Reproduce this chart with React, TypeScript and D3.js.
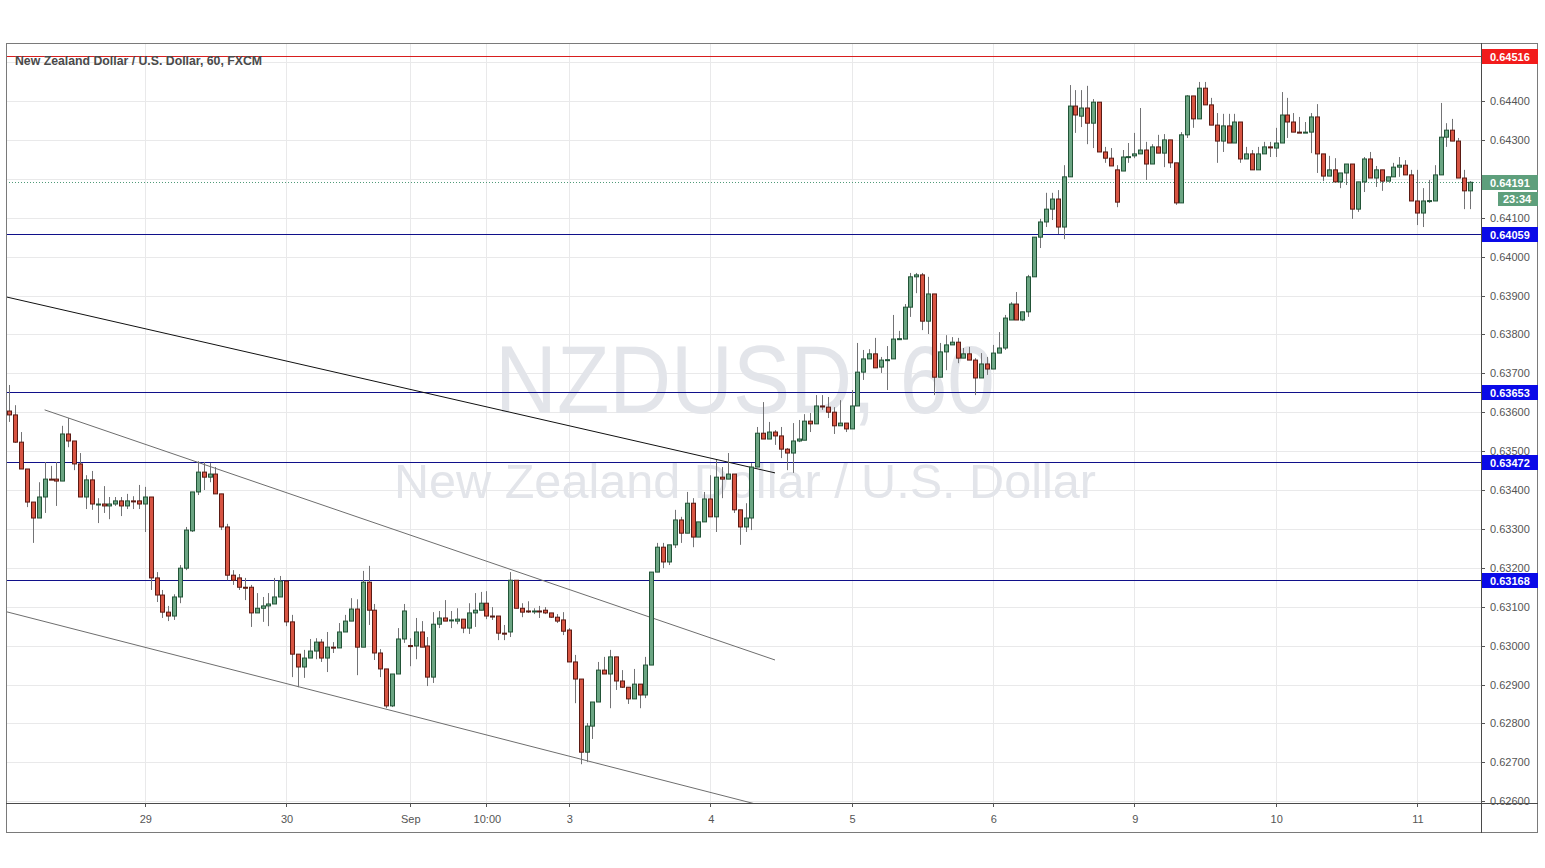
import React from "react";
import * as d3 from "d3";

// Hourly NZD/USD candles (FXCM), Aug 28 01:00 -> Sep 11 UTC
const openP = [
0.63603,0.63593,0.63523,0.63454,0.63369,0.63328,0.63382,0.63428,0.63428,0.63423,
0.63544,0.63526,0.63467,0.63382,0.63426,0.63364,0.63364,0.63359,0.63364,0.63372,
0.63359,0.63372,0.63372,0.63364,0.63382,0.63174,0.63130,0.63086,0.63076,0.63125,
0.63199,0.63295,0.63395,0.63446,0.63433,0.63441,0.63390,0.63305,0.63181,0.63174,
0.63150,0.63150,0.63084,0.63096,0.63102,0.63107,0.63125,0.63166,0.63061,0.62978,
0.62945,0.62968,0.62986,0.63009,0.62968,0.62996,0.62994,0.63035,0.63063,0.63094,
0.62996,0.63163,0.63091,0.62981,0.62940,0.62845,0.62927,0.63017,0.63000,0.62999,
0.63035,0.62999,0.62919,0.63055,0.63071,0.63066,0.63063,0.63068,0.63045,0.63084,
0.63091,0.63109,0.63076,0.63076,0.63032,0.63035,0.63168,0.63096,0.63089,0.63088,
0.63089,0.63091,0.63084,0.63073,0.63066,0.63040,0.62958,0.62914,0.62726,0.62793,
0.62855,0.62937,0.62927,0.62971,0.62909,0.62893,0.62863,0.62901,0.62873,0.62950,
0.63189,0.63253,0.63215,0.63259,0.63323,0.63289,0.63366,0.63279,0.63318,0.63377,
0.63331,0.63433,0.63428,0.63441,0.63349,0.63305,0.63328,0.63459,0.63546,0.63531,
0.63549,0.63539,0.63505,0.63495,0.63526,0.63528,0.63577,0.63570,0.63616,0.63613,
0.63600,0.63565,0.63572,0.63557,0.63616,0.63703,0.63737,0.63750,0.63716,0.63734,
0.63737,0.63788,0.63788,0.63870,0.63948,0.63953,0.63834,0.63904,0.63690,0.63755,
0.63773,0.63780,0.63739,0.63750,0.63734,0.63688,0.63724,0.63711,0.63752,0.63765,
0.63837,0.63878,0.63837,0.63858,0.63948,0.64050,0.64089,0.64122,0.64148,0.64076,
0.64205,0.64387,0.64361,0.64382,0.64343,0.64397,0.64269,0.64253,0.64223,0.64220,
0.64256,0.64259,0.64264,0.64274,0.64238,0.64282,0.64266,0.64300,0.64241,0.64138,
0.64313,0.64413,0.64354,0.64433,0.64390,0.64338,0.64297,0.64336,0.64292,0.64346,
0.64251,0.64264,0.64223,0.64264,0.64282,0.64279,0.64292,0.64364,0.64346,0.64320,
0.64320,0.64320,0.64359,0.64264,0.64207,0.64223,0.64192,0.64215,0.64238,0.64122,
0.64192,0.64251,0.64202,0.64223,0.64194,0.64205,0.64230,0.64235,0.64210,0.64143,
0.64112,0.64143,0.64143,0.64210,0.64307,0.64325,0.64297,0.64202,0.64169
];
const highP = [
0.63670,0.63618,0.63549,0.63454,0.63369,0.63420,0.63472,0.63462,0.63472,0.63565,
0.63585,0.63526,0.63495,0.63438,0.63449,0.63379,0.63410,0.63382,0.63382,0.63382,
0.63390,0.63384,0.63413,0.63408,0.63382,0.63189,0.63143,0.63102,0.63132,0.63207,
0.63305,0.63395,0.63474,0.63472,0.63469,0.63459,0.63390,0.63313,0.63194,0.63184,
0.63174,0.63156,0.63135,0.63125,0.63135,0.63174,0.63179,0.63166,0.63079,0.62978,
0.62989,0.63017,0.63019,0.63017,0.63035,0.63009,0.63058,0.63079,0.63122,0.63119,
0.63192,0.63205,0.63107,0.62991,0.62940,0.62927,0.63045,0.63107,0.63019,0.63071,
0.63063,0.63022,0.63086,0.63089,0.63117,0.63089,0.63096,0.63068,0.63109,0.63135,
0.63138,0.63140,0.63099,0.63076,0.63053,0.63189,0.63168,0.63109,0.63114,0.63096,
0.63102,0.63099,0.63084,0.63081,0.63086,0.63045,0.62976,0.62914,0.62801,0.62855,
0.62958,0.62971,0.62989,0.62971,0.62937,0.62893,0.62940,0.62901,0.62971,0.63189,
0.63264,0.63264,0.63259,0.63349,0.63331,0.63395,0.63379,0.63318,0.63395,0.63438,
0.63477,0.63459,0.63495,0.63441,0.63349,0.63366,0.63469,0.63562,0.63626,0.63575,
0.63554,0.63562,0.63508,0.63572,0.63580,0.63595,0.63598,0.63644,0.63644,0.63639,
0.63613,0.63631,0.63572,0.63657,0.63778,0.63760,0.63762,0.63791,0.63742,0.63770,
0.63850,0.63809,0.63878,0.63958,0.63958,0.63958,0.63948,0.63904,0.63778,0.63798,
0.63793,0.63791,0.63765,0.63768,0.63739,0.63752,0.63742,0.63773,0.63806,0.63850,
0.63883,0.63909,0.63858,0.63953,0.64050,0.64097,0.64164,0.64164,0.64171,0.64235,
0.64441,0.64428,0.64428,0.64439,0.64405,0.64397,0.64282,0.64279,0.64235,0.64274,
0.64292,0.64318,0.64382,0.64295,0.64289,0.64313,0.64315,0.64300,0.64241,0.64320,
0.64415,0.64413,0.64449,0.64449,0.64408,0.64369,0.64367,0.64367,0.64367,0.64346,
0.64282,0.64274,0.64282,0.64295,0.64295,0.64331,0.64423,0.64408,0.64369,0.64359,
0.64346,0.64369,0.64392,0.64264,0.64259,0.64253,0.64215,0.64238,0.64238,0.64192,
0.64256,0.64269,0.64233,0.64223,0.64205,0.64241,0.64256,0.64248,0.64223,0.64223,
0.64176,0.64197,0.64235,0.64395,0.64343,0.64354,0.64305,0.64223,0.64194
];
const lowP = [
0.63575,0.63521,0.63454,0.63356,0.63264,0.63328,0.63341,0.63426,0.63359,0.63423,
0.63510,0.63451,0.63382,0.63351,0.63349,0.63315,0.63341,0.63325,0.63359,0.63333,
0.63351,0.63351,0.63351,0.63292,0.63143,0.63112,0.63071,0.63063,0.63066,0.63109,
0.63194,0.63292,0.63387,0.63400,0.63420,0.63390,0.63297,0.63168,0.63156,0.63143,
0.63117,0.63048,0.63084,0.63061,0.63050,0.63107,0.63125,0.63050,0.62919,0.62893,
0.62917,0.62968,0.62965,0.62958,0.62932,0.62981,0.62994,0.63035,0.63063,0.62924,
0.62996,0.63053,0.62963,0.62919,0.62839,0.62842,0.62927,0.63007,0.62947,0.62965,
0.62996,0.62896,0.62904,0.63045,0.63063,0.63045,0.63055,0.63032,0.63030,0.63048,
0.63091,0.63068,0.63066,0.63014,0.63014,0.63022,0.63096,0.63073,0.63084,0.63081,
0.63071,0.63081,0.63071,0.63058,0.63027,0.62958,0.62852,0.62695,0.62701,0.62760,
0.62855,0.62927,0.62839,0.62886,0.62891,0.62850,0.62863,0.62839,0.62865,0.62950,
0.63189,0.63199,0.63207,0.63251,0.63264,0.63289,0.63253,0.63279,0.63318,0.63331,
0.63292,0.63379,0.63428,0.63341,0.63259,0.63292,0.63297,0.63459,0.63531,0.63531,
0.63516,0.63482,0.63451,0.63444,0.63523,0.63528,0.63549,0.63570,0.63606,0.63585,
0.63544,0.63565,0.63549,0.63557,0.63616,0.63683,0.63737,0.63714,0.63701,0.63657,
0.63737,0.63788,0.63788,0.63845,0.63906,0.63811,0.63801,0.63644,0.63690,0.63708,
0.63773,0.63726,0.63739,0.63734,0.63644,0.63688,0.63696,0.63711,0.63752,0.63760,
0.63837,0.63837,0.63834,0.63845,0.63948,0.64022,0.64076,0.64094,0.64058,0.64045,
0.64205,0.64318,0.64333,0.64289,0.64279,0.64269,0.64241,0.64233,0.64127,0.64220,
0.64241,0.64253,0.64264,0.64197,0.64238,0.64266,0.64230,0.64228,0.64133,0.64138,
0.64305,0.64331,0.64354,0.64390,0.64338,0.64241,0.64269,0.64292,0.64292,0.64241,
0.64251,0.64223,0.64223,0.64264,0.64256,0.64256,0.64292,0.64305,0.64320,0.64318,
0.64318,0.64266,0.64215,0.64194,0.64207,0.64192,0.64176,0.64184,0.64097,0.64115,
0.64166,0.64202,0.64179,0.64169,0.64194,0.64205,0.64205,0.64210,0.64143,0.64081,
0.64076,0.64138,0.64143,0.64210,0.64282,0.64297,0.64202,0.64122,0.64122
];
const closeP = [
0.63593,0.63523,0.63454,0.63369,0.63328,0.63382,0.63428,0.63427,0.63423,0.63544,
0.63526,0.63467,0.63382,0.63426,0.63364,0.63364,0.63359,0.63364,0.63372,0.63359,
0.63372,0.63371,0.63364,0.63382,0.63174,0.63130,0.63086,0.63076,0.63125,0.63199,
0.63297,0.63395,0.63446,0.63433,0.63441,0.63390,0.63305,0.63181,0.63168,0.63150,
0.63149,0.63084,0.63096,0.63102,0.63107,0.63125,0.63166,0.63061,0.62978,0.62945,
0.62968,0.62986,0.63009,0.62968,0.62996,0.62994,0.63035,0.63063,0.63094,0.62996,
0.63163,0.63091,0.62981,0.62940,0.62845,0.62927,0.63017,0.63089,0.62999,0.63035,
0.62996,0.62919,0.63055,0.63071,0.63063,0.63066,0.63068,0.63045,0.63084,0.63091,
0.63109,0.63076,0.63075,0.63032,0.63031,0.63168,0.63096,0.63086,0.63088,0.63089,
0.63088,0.63084,0.63073,0.63063,0.63037,0.62958,0.62914,0.62726,0.62793,0.62855,
0.62937,0.62927,0.62971,0.62909,0.62893,0.62863,0.62901,0.62873,0.62950,0.63189,
0.63253,0.63215,0.63259,0.63323,0.63289,0.63366,0.63279,0.63318,0.63377,0.63331,
0.63433,0.63428,0.63441,0.63349,0.63305,0.63328,0.63459,0.63546,0.63531,0.63549,
0.63539,0.63505,0.63495,0.63526,0.63531,0.63577,0.63570,0.63616,0.63615,0.63600,
0.63565,0.63572,0.63557,0.63616,0.63703,0.63737,0.63750,0.63714,0.63734,0.63735,
0.63788,0.63789,0.63870,0.63948,0.63953,0.63834,0.63904,0.63690,0.63755,0.63773,
0.63780,0.63739,0.63750,0.63734,0.63688,0.63724,0.63711,0.63752,0.63765,0.63842,
0.63878,0.63837,0.63858,0.63948,0.64050,0.64089,0.64122,0.64148,0.64076,0.64205,
0.64387,0.64364,0.64382,0.64343,0.64397,0.64269,0.64253,0.64233,0.64140,0.64256,
0.64257,0.64264,0.64274,0.64238,0.64282,0.64266,0.64300,0.64241,0.64138,0.64313,
0.64413,0.64354,0.64433,0.64390,0.64338,0.64297,0.64336,0.64292,0.64346,0.64251,
0.64264,0.64223,0.64264,0.64282,0.64281,0.64292,0.64364,0.64346,0.64320,0.64319,
0.64320,0.64359,0.64264,0.64207,0.64223,0.64192,0.64215,0.64238,0.64122,0.64192,
0.64251,0.64202,0.64223,0.64194,0.64205,0.64230,0.64235,0.64210,0.64143,0.64112,
0.64143,0.64144,0.64210,0.64307,0.64325,0.64297,0.64202,0.64169,0.64191
];

// time axis: bar index -> label
const timeTickIndex = [23, 47, 68, 81, 95, 119, 143, 167, 191, 215, 239];
const timeTickLabel = ["29", "30", "Sep", "10:00", "3", "4", "5", "6", "9", "10", "11"];

// horizontal levels
const supportLevels = [0.64059, 0.63653, 0.63472, 0.63168];
const resistanceLevel = 0.64516;
const lastPrice = 0.64191;
const countdown = "23:34";

// drawn trend lines [startIndex, startPrice, endIndex, endPrice]
const blackTrend = [-1, 0.63898, 130, 0.63444];
const upperChannel = [6, 0.63606, 130, 0.62963];
const lowerChannel = [-1, 0.63089, 130, 0.62580];

const title = "New Zealand Dollar / U.S. Dollar, 60, FXCM";
const watermark1 = "NZDUSD, 60";
const watermark2 = "New Zealand Dollar / U.S. Dollar";

const UP = "#6ba583", DOWN = "#d75442", UP_B = "#225437", DOWN_B = "#5b1a13", WICK = "#737375";
const LEFT = 6, RIGHT = 1481, TOP = 43, BOTTOM = 803, OUTER_R = 1538, OUTER_B = 833;

export default function App() {
  const n = openP.length;
  const x = d3.scaleLinear().domain([0, n - 1]).range([9.3, 9.3 + 5.89 * (n - 1)]);
  const y = d3.scaleLinear().domain([0.626, 0.645]).range([801.2, 62.1]);
  const priceTicks = d3.range(626, 646).map((v) => v / 1000);
  const fmt = d3.format(".5f");
  const font = "'Liberation Sans', Arial, sans-serif";
  const snap = (v: number) => Math.round(v) + 0.5;

  const boxPrices = [resistanceLevel, lastPrice, ...supportLevels];
  const visibleTicks = priceTicks.filter((p) => boxPrices.every((b) => Math.abs(y(b) - y(p)) > 8));

  const line = (l: number[], color: string) => (
    <line x1={x(l[0])} y1={y(l[1])} x2={x(l[2])} y2={y(l[3])} stroke={color} strokeWidth={1} />
  );

  const labelBox = (p: number, bg: string, key: string) => {
    const yy = y(p);
    return (
      <g key={key}>
        <rect x={RIGHT + 1} y={Math.round(yy) - 7} width={OUTER_R - RIGHT - 1} height={15} fill={bg} />
        <text x={1490} y={Math.round(yy) + 4.5} fontSize={11} fontWeight="bold" fill="#ffffff" fontFamily={font}>{fmt(p)}</text>
      </g>
    );
  };

  return (
    <div style={{ position: "absolute", left: 0, top: 0 }}>
      <svg width={1545} height={868} style={{ display: "block", background: "#ffffff" }}>
        <defs>
          <clipPath id="plot">
            <rect x={LEFT} y={TOP} width={RIGHT - LEFT} height={BOTTOM - TOP} />
          </clipPath>
        </defs>
        <rect x={0} y={0} width={1545} height={868} fill="#ffffff" />
        {/* grid */}
        <g shapeRendering="crispEdges">
          {priceTicks.map((p) => (
            <line key={"h" + p} x1={LEFT} x2={RIGHT} y1={snap(y(p))} y2={snap(y(p))} stroke="#e9e9ea" />
          ))}
          {timeTickIndex.map((i) => (
            <line key={"v" + i} x1={snap(x(i))} x2={snap(x(i))} y1={TOP} y2={BOTTOM} stroke="#e9e9ea" />
          ))}
        </g>
        {/* watermark */}
        <text x={745} y={413} textAnchor="middle" fontSize={96} fill="#e3e5ea" fontFamily={font} textLength={500} lengthAdjust="spacingAndGlyphs">{watermark1}</text>
        <text x={745} y={498} textAnchor="middle" fontSize={48} fill="#e3e5ea" fontFamily={font} textLength={702} lengthAdjust="spacingAndGlyphs">{watermark2}</text>

        <g clipPath="url(#plot)">
          {/* levels */}
          <g shapeRendering="crispEdges">
            <line x1={LEFT} x2={RIGHT} y1={snap(y(resistanceLevel))} y2={snap(y(resistanceLevel))} stroke="#d81e1e" strokeWidth={1} />
            {supportLevels.map((p) => (
              <line key={"s" + p} x1={LEFT} x2={RIGHT} y1={snap(y(p))} y2={snap(y(p))} stroke="#10108a" strokeWidth={1} />
            ))}
            <line x1={LEFT} x2={RIGHT} y1={snap(y(lastPrice))} y2={snap(y(lastPrice))} stroke="#4f9a78" strokeWidth={1} strokeDasharray="1,2" />
          </g>
          {/* trend lines */}
          {line(blackTrend, "#111111")}
          {line(upperChannel, "#6e6e6e")}
          {line(lowerChannel, "#6e6e6e")}
          {/* candles */}
          {openP.map((o, i) => {
            const c = closeP[i];
            const up = c >= o;
            const cx = Math.round(x(i));
            const yTop = y(Math.max(o, c));
            const yBot = y(Math.min(o, c));
            const h = Math.max(1, yBot - yTop);
            return (
              <g key={i}>
                <line x1={cx + 0.5} x2={cx + 0.5} y1={y(highP[i])} y2={y(lowP[i])} stroke={WICK} strokeWidth={1} />
                <rect x={cx - 1.5} y={yTop} width={4} height={h} fill={up ? UP : DOWN} stroke={up ? UP_B : DOWN_B} strokeWidth={1} />
              </g>
            );
          })}
        </g>

        {/* title */}
        <text x={15} y={65} fontSize={12} fontWeight="bold" fill="#4a4a4a" fontFamily={font} textLength={247} lengthAdjust="spacingAndGlyphs">{title}</text>

        {/* frame */}
        <g shapeRendering="crispEdges" fill="none">
          <rect x={LEFT + 0.5} y={TOP + 0.5} width={OUTER_R - LEFT - 1} height={OUTER_B - TOP - 1} stroke="#7a7a7a" />
          <line x1={LEFT} x2={OUTER_R} y1={BOTTOM + 0.5} y2={BOTTOM + 0.5} stroke="#4a4a4a" />
          <line x1={RIGHT + 0.5} x2={RIGHT + 0.5} y1={TOP} y2={OUTER_B} stroke="#4a4a4a" />
        </g>

        {/* price axis */}
        <g fontFamily={font} fontSize={11} fill="#555555">
          {priceTicks.map((p) => (
            <line key={"k" + p} x1={RIGHT} x2={RIGHT + 4} y1={snap(y(p))} y2={snap(y(p))} stroke="#555555" shapeRendering="crispEdges" />
          ))}
          {visibleTicks.map((p) => (
            <text key={"t" + p} x={1490} y={y(p) + 4}>{fmt(p)}</text>
          ))}
        </g>
        {/* time axis */}
        <g fontFamily={font} fontSize={11} fill="#555555">
          {timeTickIndex.map((i, k) => (
            <g key={"x" + i}>
              <line x1={snap(x(i))} x2={snap(x(i))} y1={BOTTOM} y2={BOTTOM + 4} stroke="#555555" shapeRendering="crispEdges" />
              <text x={x(i) + 1} y={823} textAnchor="middle">{timeTickLabel[k]}</text>
            </g>
          ))}
        </g>

        {/* level labels */}
        {labelBox(resistanceLevel, "#f21c1c", "r")}
        {supportLevels.map((p) => labelBox(p, "#0a0ae8", "l" + p))}
        {labelBox(lastPrice, "#5e9f7c", "last")}
        <rect x={1498} y={192} width={OUTER_R - 1498} height={14} fill="#5e9f7c" />
        <text x={1503} y={203} fontSize={11} fontWeight="bold" fill="#ffffff" fontFamily={font}>{countdown}</text>
      </svg>
    </div>
  );
}
